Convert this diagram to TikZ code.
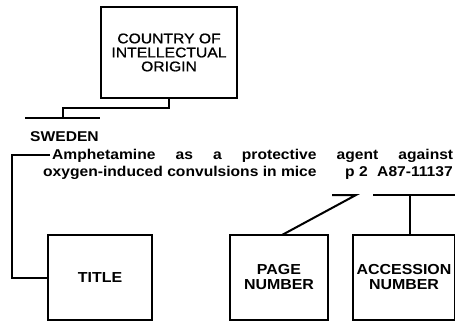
\documentclass[tikz,border=0pt]{standalone}
\usepackage{fontspec}
\setmainfont{Liberation Sans}
\newfontfamily\boxfont[FakeStretch=1.12, FakeBold=1]{Liberation Sans}
\newfontfamily\entryfont[FakeStretch=1.1]{Liberation Sans}
\usetikzlibrary{positioning, calc}

\begin{document}
\begin{tikzpicture}[
  x=1pt, y=-1pt,
  label box/.style={draw, line width=2pt, inner sep=0pt, outer sep=0pt,
                    align=center},
  top box/.style={label box, font=\boxfont\fontsize{14}{14}\selectfont},
  low box/.style={label box, minimum height=85pt,
                  font=\entryfont\bfseries\fontsize{14.5}{15}\selectfont},
  entry/.style={anchor=base west, inner sep=0pt,
                font=\entryfont\bfseries\fontsize{14.2}{16}\selectfont},
  link/.style={line width=2pt},
]
\useasboundingbox (0,0) rectangle (455,322);

% Top box
\node[top box, minimum width=136pt, minimum height=91pt] (origin) at (169,52.5)
  {COUNTRY OF\\INTELLECTUAL\\ORIGIN};

% Sample entry
\node[entry] (country) at (30,141) {SWEDEN};
\node[entry] (line1) at (52,159)
  {\hbox to 401pt{Amphetamine\hfill as\hfill a\hfill protective\hfill agent\hfill against}};
\node[entry] (line2) at (43,176) {oxygen-induced convulsions in mice};
\node[entry] (pagenum) at (345,176) {p 2};
\node[entry, anchor=base east] (accnum) at (453,176) {A87-11137};

% Bottom boxes
\node[low box, minimum width=104pt] (title)  at (100,277.5) {TITLE};
\node[low box, minimum width=98pt]  (page)   at (279,277.5) {PAGE\\NUMBER};
\node[low box, minimum width=102pt] (access) at (404,277.5) {ACCESSION\\NUMBER};

% Bars under and over the entry
\coordinate (cbar w) at (25,118);
\coordinate (cbar e) at (100,118);
\coordinate (cbar t) at (63,118);
\coordinate (tbar e) at (50,155);
\coordinate (pbar w) at (332,195);
\coordinate (pbar e) at (356,195);
\coordinate (abar w) at (373,195);
\coordinate (abar e) at (458,195);

\draw[link] (cbar w) -- (cbar e);
\draw[link] (origin.south) -- ++(0,10) -| (cbar t);
\draw[link] (tbar e) -- ++(-38,0) |- (title.west);
\draw[link] (pbar w) -- (pbar e) -- ([xshift=3pt]page.north);
\draw[link] (abar w) -- (abar e);
\draw[link] ([xshift=6pt]access.north) -- ([xshift=6pt]access.north |- abar w);
\end{tikzpicture}
\end{document}
